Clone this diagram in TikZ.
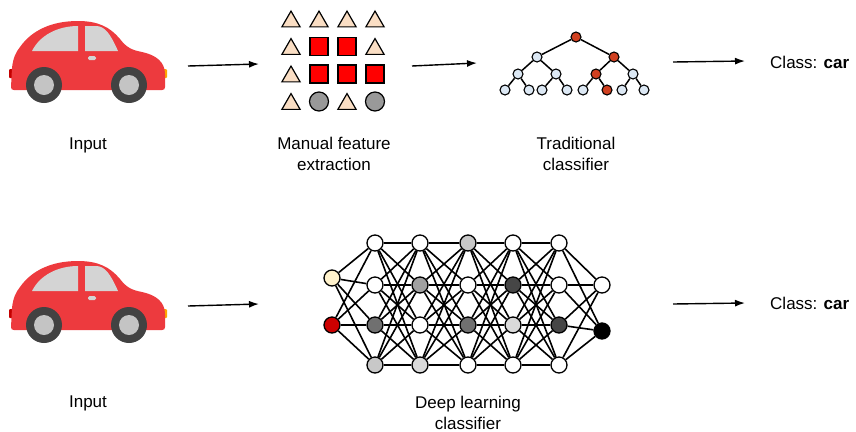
\documentclass[tikz,border=0pt]{standalone}
\usepackage{fontspec}
\setmainfont{Liberation Sans}
\usetikzlibrary{arrows.meta,shapes.geometric}

\definecolor{carred}{RGB}{237,58,62}
\definecolor{carglass}{RGB}{212,212,212}
\definecolor{tyre}{RGB}{66,66,66}
\definecolor{hub}{RGB}{196,196,196}
\definecolor{taillight}{RGB}{196,0,0}
\definecolor{headlight}{RGB}{255,166,0}
\definecolor{peach}{RGB}{250,222,196}
\definecolor{featred}{RGB}{255,0,0}
\definecolor{featgray}{RGB}{153,153,153}
\definecolor{leafblue}{RGB}{220,232,244}
\definecolor{splitred}{RGB}{208,64,32}
\definecolor{cream}{RGB}{255,242,204}
\definecolor{inred}{RGB}{204,0,0}
\definecolor{nnA}{RGB}{200,200,200}
\definecolor{nnB}{RGB}{160,160,160}
\definecolor{nnC}{RGB}{112,112,112}
\definecolor{nnD}{RGB}{70,70,70}
\definecolor{nnE}{RGB}{218,218,218}

\tikzset{
  lbl/.style={align=center,anchor=base,inner sep=0pt,font=\fontsize{17bp}{21bp}\selectfont},
  flow/.style={-{Latex[length=10bp,width=7bp]},line width=1.4bp},
  tri/.style={regular polygon,regular polygon sides=3,draw,line width=1.2bp,fill=peach,minimum size=21bp,inner sep=0pt,yshift=-2.6bp},
  box/.style={rectangle,draw,line width=1.2bp,fill=featred,minimum size=18bp,inner sep=0pt},
  disc/.style={circle,draw,line width=1.2bp,fill=featgray,minimum size=19bp,inner sep=0pt},
  leaf/.style={circle,draw,line width=1.1bp,fill=leafblue,minimum size=10bp,inner sep=0pt},
  redleaf/.style={leaf,fill=splitred},
  branch/.style={line width=1.5bp},
  neuron/.style={circle,draw,line width=1.3bp,fill=white,minimum size=16bp,inner sep=0pt},
  wire/.style={line width=1.6bp},
  % the little red car, drawn from its top left corner
  pics/car/.style={code={
    \fill[taillight,rounded corners=1bp] (9,69) rectangle (16,78);
    \fill[headlight,rounded corners=1bp] (161,69) rectangle (167,78);
    \fill[carred] (11,87) -- (12,68) .. controls (13,58) and (16,52) .. (20,47)
      .. controls (32,30) and (52,21) .. (78,21) .. controls (98,21) and (110,27) .. (120,39)
      .. controls (127,48) and (132,50) .. (142,52) .. controls (156,55) and (165,62) .. (165,74)
      -- (165,87) .. controls (165,89) and (164,90) .. (162,90)
      -- (14,90) .. controls (12,90) and (11,89) .. (11,87) -- cycle;
    \fill[carglass] (32,51) .. controls (40,35) and (58,26) .. (78,26) -- (78,51) -- cycle;
    \fill[carglass] (85,26) -- (97,26) .. controls (105,27) and (110,33) .. (118,51) -- (85,51) -- cycle;
    \fill[carglass,rounded corners=1.5bp] (88,56) rectangle (96,60);
    \foreach \wx in {44,129} {
      \fill[tyre] (\wx,85) circle (18bp);
      \fill[hub] (\wx,85) circle (10bp);
    }
  }},
}

\begin{document}
\begin{tikzpicture}[x=1bp,y=-1bp]
    \useasboundingbox (0,0) rectangle (856,431);
    %% top row: hand made features
    \pic (car1) at (0,0) {car};
    \node (in1) at (88,149) [lbl] {Input};
    \foreach \row [count=\r] in {{tri,tri,tri,tri},{tri,box,box,tri},{tri,box,box,box},{tri,disc,tri,disc}}
        \foreach \k [count=\c] in \row
            \node (f\r\c) at (263+28*\c,-8.5+27.5*\r) [\k] {};
    \node (feat) at (334,170) [lbl] {Manual feature\\extraction};
    % decision tree
    \node (r) at (576,37) [redleaf] {};
    \node (a) at (537,57) [leaf] {};
    \node (b) at (614,57) [redleaf] {};
    \node (aa) at (518,74) [leaf] {};
    \node (ab) at (556,74) [leaf] {};
    \node (ba) at (596,74) [redleaf] {};
    \node (bb) at (633,74) [leaf] {};
    \node (aaa) at (505,90) [leaf] {};
    \node (aab) at (529,90) [leaf] {};
    \node (aba) at (542,90) [leaf] {};
    \node (abb) at (567,90) [leaf] {};
    \node (baa) at (583,90) [leaf] {};
    \node (bab) at (607,90) [redleaf] {};
    \node (bba) at (622,90) [leaf] {};
    \node (bbb) at (644,90) [leaf] {};
    \foreach \p/\q in {r/a,r/b,a/aa,a/ab,b/ba,b/bb,aa/aaa,aa/aab,ab/aba,ab/abb,ba/baa,ba/bab,bb/bba,bb/bbb}
        \draw [branch] (\p) -- (\q);
    \node (trad) at (576,170) [lbl] {Traditional\\classifier};
    \node (cls1) at (770,68) [lbl,anchor=base west] {Class: \textbf{car}};
    \coordinate (a1s) at (188,66);
    \coordinate (a1e) at (259,64);
    \coordinate (a2s) at (412,66);
    \coordinate (a2e) at (477,63);
    \coordinate (a3s) at (673,62);
    \coordinate (a3e) at (745,61);
    \draw [flow] (a1s) -- (a1e);
    \draw [flow] (a2s) -- (a2e);
    \draw [flow] (a3s) -- (a3e);
    %% bottom row: deep network
    \pic (car2) at (0,240) {car};
    \node (in2) at (88,407) [lbl] {Input};
    \node (i1) at (332,278) [neuron,fill=cream] {};
    \node (i2) at (332,325) [neuron,fill=inred] {};
    \foreach \x/\ca/\cb/\cc/\cd [count=\l] in {375/white/white/nnC/nnA,420/white/nnB/white/nnE,468/nnA/white/nnC/white,513/white/nnD/nnE/white,559/white/white/nnD/white} {
        \node (h\l-1) at (\x,243) [neuron,fill=\ca] {};
        \node (h\l-2) at (\x,285) [neuron,fill=\cb] {};
        \node (h\l-3) at (\x,325) [neuron,fill=\cc] {};
        \node (h\l-4) at (\x,365) [neuron,fill=\cd] {};
    }
    \node (o1) at (602,285) [neuron] {};
    \node (o2) at (602,331) [neuron,fill=black] {};
    \foreach \j in {1,2}
        \foreach \k in {1,...,4}
            \draw [wire] (i\j) -- (h1-\k);
    \foreach \l [evaluate=\l as \m using int(\l+1)] in {1,...,4}
        \foreach \j in {1,...,4}
            \foreach \k in {1,...,4}
                \draw [wire] (h\l-\j) -- (h\m-\k);
    \foreach \j in {1,...,4}
        \foreach \k in {1,2}
            \draw [wire] (h5-\j) -- (o\k);
    \node (deep) at (468,429) [lbl] {Deep learning\\classifier};
    \node (cls2) at (770,309) [lbl,anchor=base west] {Class: \textbf{car}};
    \coordinate (b1s) at (188,306);
    \coordinate (b1e) at (259,304);
    \coordinate (b2s) at (673,304);
    \coordinate (b2e) at (745,303);
    \draw [flow] (b1s) -- (b1e);
    \draw [flow] (b2s) -- (b2e);
    %
\end{tikzpicture}
\end{document}
